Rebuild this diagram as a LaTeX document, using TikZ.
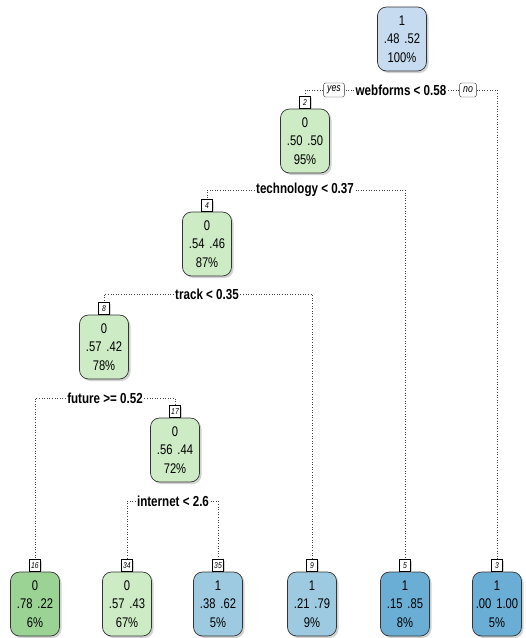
\documentclass[tikz,border=0pt]{standalone}
\usepackage{fontspec}
\setmainfont{Liberation Sans}[FakeStretch=0.8]
\usepackage{tikz}
\usetikzlibrary{positioning,shadows}
\pgfdeclarelayer{bg}
\pgfsetlayers{bg,main}
\definecolor{gnlight}{HTML}{CDEBC5}
\definecolor{gndark}{HTML}{9BD394}
\definecolor{bulight}{HTML}{C6DBEF}
\definecolor{bumid}{HTML}{9ECAE1}
\definecolor{budark}{HTML}{6AAED6}
\tikzset{
    treebox/.style={rectangle, rounded corners=9pt, draw=black!80, line width=0.7pt,
        minimum width=49pt, minimum height=64pt, inner xsep=3pt, align=center,
        font=\fontsize{14}{18.5}\selectfont,
        drop shadow={shadow xshift=2pt, shadow yshift=-2pt, fill=black!35}},
    numbox/.style={rectangle, draw=black, line width=0.5pt, fill=white, inner sep=1.5pt,
        minimum width=11pt, minimum height=12pt, font=\fontsize{8.5}{8.5}\selectfont\itshape,
        drop shadow={shadow xshift=1.5pt, shadow yshift=-1.5pt, fill=black!35}},
    splitlab/.style={fill=white, inner sep=1.5pt, font=\fontsize{14.5}{14.5}\selectfont\bfseries},
    yesno/.style={rectangle, rounded corners=2pt, draw=black!80, fill=white, inner xsep=3.5pt,
        inner ysep=2pt, minimum height=14pt, font=\fontsize{11}{11}\selectfont\itshape},
    branch/.style={dotted, line width=0.6pt, black!75}
}
\newcommand{\pr}[2]{#1\hspace{5pt}#2}

\begin{document}
\begin{tikzpicture}[x=1pt, y=-1pt]
    \useasboundingbox (0,0) rectangle (526,638);

    % inner nodes
    \node (n1) [treebox, fill=bulight] at (402,39) {1\\\pr{.48}{.52}\\100\%};
    \node (n2) [treebox, fill=gnlight] at (305,141) {0\\\pr{.50}{.50}\\95\%};
    \node (n4) [treebox, fill=gnlight] at (207,244) {0\\\pr{.54}{.46}\\87\%};
    \node (n8) [treebox, fill=gnlight] at (104,347) {0\\\pr{.57}{.42}\\78\%};
    \node (n17) [treebox, fill=gnlight] at (175,450) {0\\\pr{.56}{.44}\\72\%};

    % leaves
    \node (n16) [treebox, fill=gndark] at (35,604) {0\\\pr{.78}{.22}\\6\%};
    \node (n34) [treebox, fill=gnlight] at (127,604) {0\\\pr{.57}{.43}\\67\%};
    \node (n35) [treebox, fill=bumid] at (218,604) {1\\\pr{.38}{.62}\\5\%};
    \node (n9) [treebox, fill=bumid] at (312,604) {1\\\pr{.21}{.79}\\9\%};
    \node (n5) [treebox, fill=budark] at (405,604) {1\\\pr{.15}{.85}\\8\%};
    \node (n3) [treebox, fill=budark] at (497,604) {1\\\pr{.00}{1.00}\\5\%};

    % node numbers
    \node (t2) [numbox, above=0pt of n2] {2};
    \node (t4) [numbox, above=0pt of n4] {4};
    \node (t8) [numbox, above=0pt of n8] {8};
    \node (t17) [numbox, above=0pt of n17] {17};
    \node (t16) [numbox, above=0pt of n16] {16};
    \node (t34) [numbox, above=0pt of n34] {34};
    \node (t35) [numbox, above=0pt of n35] {35};
    \node (t9) [numbox, above=0pt of n9] {9};
    \node (t5) [numbox, above=0pt of n5] {5};
    \node (t3) [numbox, above=0pt of n3] {3};

    % splits
    \node (s1) [splitlab] at (401,90) {webforms < 0.58};
    \node (yes) [yesno] at (334,90) {yes};
    \node (no) [yesno] at (468,90) {no};
    \node (s2) [splitlab] at (305,190) {technology < 0.37};
    \node (s4) [splitlab] at (207,294) {track < 0.35};
    \node (s8) [splitlab] at (105,398) {future >= 0.52};
    \node (s17) [splitlab] at (173,501) {internet < 2.6};

    \begin{pgfonlayer}{bg}
        \draw[branch] (s1) -| (t2.north);
        \draw[branch] (s1) -| (t3.north);
        \draw[branch] (s2) -| (t4.north);
        \draw[branch] (s2) -| (t5.north);
        \draw[branch] (s4) -| (t8.north);
        \draw[branch] (s4) -| (t9.north);
        \draw[branch] (s8) -| (t16.north);
        \draw[branch] (s8) -| (t17.north);
        \draw[branch] (s17) -| (t34.north);
        \draw[branch] (s17) -| (t35.north);
    \end{pgfonlayer}
\end{tikzpicture}
\end{document}
